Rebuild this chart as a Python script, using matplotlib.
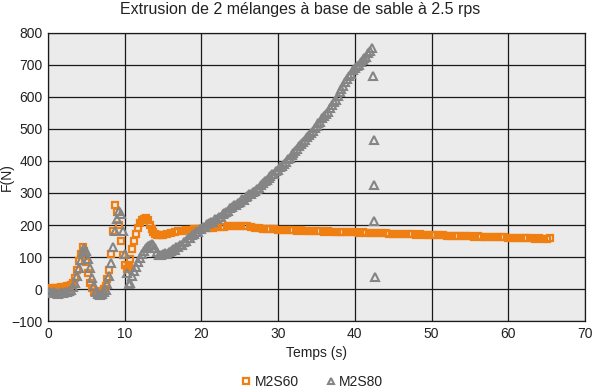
import matplotlib
matplotlib.use("Agg")
import matplotlib.pyplot as plt
import numpy as np

plt.rcParams['font.family'] = ['Liberation Sans', 'DejaVu Sans']

title = "Extrusion de 2 mélanges à base de sable à 2.5 rps"
xlabel = "Temps (s)"
ylabel = "F(N)"
series_names = ["M2S60", "M2S80"]

# M2S60 (orange squares)
t60_a = [0, .25, .5, .75, 1, 1.25, 1.5, 1.75, 2, 2.25, 2.5, 2.75, 3, 3.25, 3.5, 3.75,
         4, 4.25, 4.5, 4.75, 5, 5.25, 5.5, 5.75, 6, 6.25, 6.5, 6.75, 7, 7.25, 7.5, 7.75,
         8, 8.25, 8.5, 8.75, 9, 9.25, 9.5, 9.75, 10, 10.25, 10.5, 10.75, 11, 11.25, 11.5, 11.75,
         12, 12.25, 12.5, 12.75, 13, 13.25, 13.5, 13.75, 14, 14.25, 14.5, 14.75]
f60_a = [0, 2, 0, 3, 2, 4, 3, 5, 4, 6, 8, 10, 12, 20, 35, 60,
         88, 110, 132, 118, 85, 50, 20, 2, -8, -10, -10, -8, -5, 0, 10, 30,
         60, 110, 180, 262, 240, 200, 150, 105, 75, 62, 70, 95, 125, 150, 172, 190,
         205, 215, 220, 222, 215, 200, 188, 178, 172, 168, 168, 170]
t60_b = [15, 15.5, 16, 16.5, 17, 17.5, 18, 18.5, 19, 19.5, 20, 20.5, 21, 21.5, 22, 22.5,
         23, 23.5, 24, 24.5, 25, 25.5, 26, 26.5, 27, 27.5, 28, 28.5, 29, 29.5, 30, 30.5,
         31, 31.5, 32, 32.5, 33, 33.5, 34, 34.5, 35, 35.5, 36, 36.5, 37, 37.5, 38, 38.5,
         39, 39.5, 40, 40.5, 41, 41.5, 42, 42.5, 43, 43.5, 44, 44.5, 45, 45.5, 46, 46.5,
         47, 47.5, 48, 48.5, 49, 49.5, 50, 50.5, 51, 51.5, 52, 52.5, 53, 53.5, 54, 54.5,
         55, 55.5, 56, 56.5, 57, 57.5, 58, 58.5, 59, 59.5, 60, 60.5, 61, 61.5, 62, 62.5,
         63, 63.5, 64, 64.5, 65, 65.5]
f60_b = [170, 173, 176, 178, 180, 182, 183, 185, 186, 188, 189, 190, 191, 192, 193, 194,
         195, 196, 197, 198, 198, 197, 196, 194, 192, 190, 189, 188, 187, 186, 185, 185,
         184, 184, 183, 182, 183, 182, 181, 181, 180, 180, 179, 180, 179, 178, 178, 177,
         178, 177, 177, 176, 177, 176, 175, 175, 174, 175, 174, 173, 173, 172, 173, 172,
         171, 171, 170, 171, 170, 169, 169, 168, 169, 168, 167, 167, 166, 167, 166, 165,
         165, 164, 165, 164, 163, 163, 162, 162, 161, 161, 160, 160, 159, 160, 159, 158,
         158, 157, 158, 157, 157, 158]

# M2S80 (grey triangles)
t80_a = [0, .25, .5, .75, 1, 1.25, 1.5, 1.75, 2, 2.25, 2.5, 2.75, 3, 3.25, 3.5, 3.75,
         4, 4.25, 4.5, 4.75, 5, 5.25, 5.5, 5.75, 6, 6.25, 6.5, 6.75, 7, 7.25, 7.5, 7.75,
         8, 8.25, 8.5, 8.75, 9, 9.25, 9.5, 9.75, 10, 10.25, 10.5, 10.75, 11, 11.25, 11.5, 11.75,
         12, 12.25, 12.5, 12.75, 13, 13.25, 13.5, 13.75, 14, 14.25, 14.5, 14.75]
f80_a = [-8, -10, -12, -10, -12, -14, -12, -10, -12, -10, -8, -5, -2, 5, 18, 40,
         65, 92, 115, 128, 118, 95, 65, 35, 10, -8, -15, -18, -15, -10, -2, 15,
         40, 80, 130, 180, 220, 245, 235, 180, 110, 50, 15, 20, 40, 55, 70, 85,
         98, 110, 120, 128, 134, 138, 140, 137, 128, 115, 105, 105]
t80_b = [15, 15.25, 15.5, 15.75, 16, 16.25, 16.5, 16.75, 17, 17.25, 17.5, 17.75, 18, 18.25,
         18.5, 18.75, 19, 19.25, 19.5, 19.75, 20, 20.25, 20.5, 20.75, 21, 21.25, 21.5, 21.75,
         22, 22.25, 22.5, 22.75, 23, 23.25, 23.5, 23.75, 24, 24.25, 24.5, 24.75, 25, 25.25,
         25.5, 25.75, 26, 26.25, 26.5, 26.75, 27, 27.25, 27.5, 27.75, 28, 28.25, 28.5, 28.75,
         29, 29.25, 29.5, 29.75, 30, 30.25, 30.5, 30.75, 31, 31.25, 31.5, 31.75, 32, 32.25,
         32.5, 32.75, 33, 33.25, 33.5, 33.75, 34, 34.25, 34.5, 34.75, 35, 35.25, 35.5, 35.75,
         36, 36.25, 36.5, 36.75, 37, 37.25, 37.5, 37.75, 38, 38.25, 38.5, 38.75, 39, 39.25,
         39.5, 39.75, 40, 40.25, 40.5, 40.75, 41, 41.25, 41.5, 41.75, 42, 42.2,
         42.4, 42.5, 42.5, 42.5, 42.6]
f80_b = [108, 112, 110, 116, 118, 124, 122, 130, 132, 138, 136, 146, 150, 158, 160, 168,
         172, 178, 178, 186, 188, 194, 194, 202, 205, 210, 210, 218, 220, 226, 226, 234,
         236, 242, 243, 252, 255, 262, 262, 270, 273, 280, 279, 288, 290, 296, 296, 304,
         307, 314, 316, 325, 330, 338, 340, 348, 352, 358, 360, 368, 372, 380, 383, 392,
         398, 406, 410, 420, 425, 432, 436, 446, 452, 460, 465, 474, 480, 488, 493, 503,
         510, 518, 523, 533, 540, 548, 554, 566, 575, 584, 590, 602, 615, 625, 633, 646,
         655, 665, 673, 684, 690, 696, 700, 708, 714, 722, 726, 736, 745, 752,
         665, 465, 325, 213, 38]

x_ticks = [0, 10, 20, 30, 40, 50, 60, 70]
y_ticks = [-100, 0, 100, 200, 300, 400, 500, 600, 700, 800]

orange = '#F07F12'
grey = '#858585'

fig = plt.figure(figsize=(6.0, 3.92), dpi=100)
ax = fig.add_axes([0.08, 0.181, 0.895, 0.735])
ax.set_facecolor('#EBEBEB')

ax.plot(t60_a + t60_b, f60_a + f60_b, linestyle='none', marker='s', markersize=5.0,
        markerfacecolor='none', markeredgecolor=orange, markeredgewidth=1.6,
        label=series_names[0], zorder=3)
ax.plot(t80_a + t80_b, f80_a + f80_b, linestyle='none', marker='^', markersize=5.5,
        markerfacecolor='none', markeredgecolor=grey, markeredgewidth=1.5,
        label=series_names[1], zorder=4)

ax.set_xlim(0, 70)
ax.set_ylim(-100, 800)
ax.set_xticks(x_ticks)
ax.set_yticks(y_ticks)
ax.grid(True, color='#1a1a1a', linewidth=0.9)
ax.set_axisbelow(True)
for s in ax.spines.values():
    s.set_color('#1a1a1a')
    s.set_linewidth(0.9)
ax.tick_params(length=0, labelsize=10, colors='#222222', pad=4)

fig.text(0.5, 0.975, title, ha='center', va='center', fontsize=11.5, color='#222222')
ax.set_xlabel(xlabel, fontsize=10, color='#222222', labelpad=4)
ax.set_ylabel(ylabel, fontsize=10, color='#222222')
ax.yaxis.set_label_coords(-0.064, 0.5)

leg = fig.legend(loc='center', bbox_to_anchor=(0.52, 0.025), ncol=2, frameon=False,
                 fontsize=10, handlelength=0.8, handletextpad=0.2, columnspacing=1.9,
                 markerscale=0.8)
for t in leg.get_texts():
    t.set_color('#222222')

fig.savefig('out.png', dpi=100)
